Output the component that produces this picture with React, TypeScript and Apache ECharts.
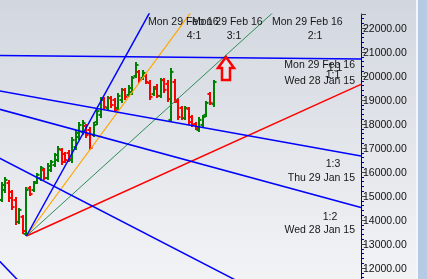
import React, { useEffect, useRef } from 'react';
import * as echarts from 'echarts';

// ---- OHLC data (bar index, open, high, low, close) ----
const opens = [14830, 15250, 15540, 15170, 14830, 13920, 14130, 13420, 15330, 15250, 15580, 15750, 16080, 15750, 16080, 16290, 16500, 16920, 16750, 16790, 16500, 17040, 17460, 17670, 17920, 17750, 17540, 18080, 18380, 19040, 18670, 19080, 19000, 18670, 19000, 19420, 19210, 19330, 20000, 20170, 19920, 20000, 19710, 19250, 19540, 19170, 19830, 19670, 18170, 19750, 18920, 18670, 18250, 18630, 18290, 18000, 17750, 17960, 18380, 19250, 18830];
const highs = [15580, 15790, 15670, 15250, 14960, 14500, 14210, 15380, 15420, 15630, 15960, 16250, 16170, 16380, 16500, 16790, 17080, 17000, 16830, 16920, 17460, 17750, 18080, 18170, 18000, 17880, 18080, 18670, 19130, 19130, 19170, 19170, 19080, 19290, 19500, 19500, 19630, 20000, 20580, 20250, 20250, 20080, 19830, 19580, 19670, 19920, 19920, 19830, 20330, 19880, 19080, 18750, 18750, 18710, 18380, 18080, 18290, 18380, 18960, 19330, 19830];
const lows = [14750, 15130, 14750, 14420, 13790, 13830, 13420, 13330, 15000, 15170, 15500, 15630, 15670, 15670, 16000, 16210, 16420, 16290, 16380, 16420, 16380, 16920, 17330, 17540, 17420, 16920, 17460, 17960, 18250, 18580, 18580, 18670, 18500, 18580, 18880, 19000, 19130, 19210, 19920, 19710, 19830, 19670, 19000, 19170, 19080, 19080, 19290, 18920, 18080, 18880, 18170, 18170, 18170, 17960, 17880, 17750, 17670, 17880, 18290, 18790, 18710];
const closes = [15460, 15670, 14920, 14540, 13920, 14420, 13540, 15250, 15080, 15540, 15880, 16170, 15750, 16250, 16420, 16710, 16960, 16420, 16500, 16540, 17330, 17630, 17960, 18040, 17540, 17000, 17960, 18540, 19000, 18710, 19080, 18790, 18580, 19170, 19420, 19130, 19500, 19920, 20460, 19830, 20130, 19750, 19130, 19460, 19170, 19830, 19420, 19040, 20170, 19000, 18290, 18250, 18670, 18080, 17960, 17830, 18170, 18290, 18880, 18880, 19750];

// ---- axes ----
const yMin = 11000;
const yMax = 22583.33;
const yInterval = 1000;
const yLabelMin = 12000;
const yLabelMax = 22000;
const xMin = -0.5;
const xMax = 101.77;

// ---- lower Gann fan (from the swing low) ----
const lowFanOrigin = [7, 13333];
const lowFanUnit = 66.67; // value per bar for 1:1
const lowFanRatios = [1, 2, 3, 4];
const lowFanColors = ['#ff0000', '#2e8b57', '#ffa500', '#0000ff'];
const lowFanWidths = [1.5, 1, 1.2, 1.5];

// ---- upper Gann fan (from an earlier high, off the left edge) ----
const highFanOrigin = [-57.16, 20875];
const highFanSlopes = [-152, -76, -40, -26.5];

// ---- near-horizontal level line ----
const levelLineValues = [20854, 20708];

const labelFont = 'Liberation Sans, Arial, sans-serif';

export default function App() {
  const ref = useRef<HTMLDivElement>(null);
  useEffect(() => {
    if (!ref.current) return;
    const chart = echarts.init(ref.current, undefined, { renderer: 'svg' });

    const ohlc = opens.map((o, i) => [i, o, highs[i], lows[i], closes[i]]);

    const lineSeries: any[] = [];
    lowFanRatios.forEach((r, k) => {
      const [x0, y0] = lowFanOrigin;
      lineSeries.push({
        type: 'line',
        data: [[x0, y0], [xMax, y0 + r * lowFanUnit * (xMax - x0)]],
        symbol: 'none',
        clip: true,
        z: 4,
        silent: true,
        lineStyle: { color: lowFanColors[k], width: lowFanWidths[k] },
      });
    });
    highFanSlopes.forEach((s) => {
      const [x0, y0] = highFanOrigin;
      lineSeries.push({
        type: 'line',
        data: [[x0, y0], [xMax, y0 + s * (xMax - x0)]],
        symbol: 'none',
        clip: true,
        z: 4,
        silent: true,
        lineStyle: { color: '#0000ff', width: 1.5 },
      });
    });
    lineSeries.push({
      type: 'line',
      data: [[xMin, levelLineValues[0]], [xMax, levelLineValues[1]]],
      symbol: 'none',
      clip: true,
      z: 4,
      silent: true,
      lineStyle: { color: '#0000ff', width: 1.5 },
    });

    const txt = (text: string, x: number, y: number, align: string = 'left') => ({
      type: 'text',
      x,
      y,
      z: 20,
      silent: true,
      style: {
        text,
        fill: '#161616',
        font: `10.5px ${labelFont}`,
        align,
        verticalAlign: 'middle',
      },
    });

    const option: any = {
      animation: false,
      backgroundColor: 'transparent',
      grid: { left: 0, right: 66, top: 14, bottom: -13, outerBoundsMode: 'none', containLabel: false },
      xAxis: {
        type: 'value',
        min: xMin,
        max: xMax,
        show: false,
        axisLine: { onZero: false },
        splitLine: { show: false },
      },
      yAxis: {
        type: 'value',
        position: 'right',
        min: yMin,
        max: yMax,
        interval: yInterval,
        axisLine: { show: true, onZero: false, lineStyle: { color: '#00008b', width: 1 } },
        axisTick: { show: true, length: 5, lineStyle: { color: '#404040' } },
        minorTick: { show: true, splitNumber: 5, length: 3, lineStyle: { color: '#00008b' } },
        splitLine: { show: false },
        axisLabel: {
          show: true,
          margin: 2,
          color: '#111',
          fontSize: 10.5,
          fontFamily: labelFont,
          showMaxLabel: false,
          formatter: (v: number) => (v < yLabelMin || v > yLabelMax ? '' : v.toFixed(2)),
        },
      },
      graphic: [
        {
          type: 'rect',
          z: -10,
          silent: true,
          shape: { x: 0, y: 0, width: 427, height: 279 },
          style: {
            fill: new echarts.graphic.LinearGradient(0, 0, 0, 1, [
              { offset: 0, color: '#d2d7df' },
              { offset: 1, color: '#f2f3f5' },
            ]),
          },
        },
        { type: 'rect', z: 30, silent: true, shape: { x: 416, y: 0, width: 2, height: 279 }, style: { fill: '#f4f6f9' } },
        { type: 'rect', z: 30, silent: true, shape: { x: 418, y: 0, width: 9, height: 279 }, style: { fill: '#b6cbe3' } },
        // lower fan labels
        txt('Mon 29 Feb 16', 148, 21),
        txt('4:1', 194, 35, 'center'),
        txt('Mon 29 Feb 16', 192, 21),
        txt('3:1', 234, 35, 'center'),
        txt('Mon 29 Feb 16', 272, 21),
        txt('2:1', 315, 35, 'center'),
        txt('Mon 29 Feb 16', 355, 64, 'right'),
        txt('1:1', 333, 74, 'center'),
        // upper fan labels
        txt('1:1', 335, 67, 'center'),
        txt('Wed 28 Jan 15', 355, 80, 'right'),
        txt('1:3', 333, 163, 'center'),
        txt('Thu 29 Jan 15', 355, 177, 'right'),
        txt('1:2', 330, 216, 'center'),
        txt('Wed 28 Jan 15', 355, 229, 'right'),
        // red arrow annotation
        {
          type: 'polygon',
          z: 25,
          silent: true,
          shape: {
            points: [[226, 57], [234, 68], [230, 68], [230, 80], [222, 80], [222, 68], [218, 68]],
          },
          style: { fill: 'rgba(255,255,255,0.25)', stroke: '#ff0000', lineWidth: 2.5, lineJoin: 'miter' },
        },
      ],
      series: [
        {
          type: 'custom',
          z: 2,
          silent: true,
          data: ohlc,
          encode: { x: 0, y: [1, 2, 3, 4] },
          renderItem: (_params: any, api: any) => {
            const i = api.value(0);
            const o = api.value(1);
            const h = api.value(2);
            const l = api.value(3);
            const c = api.value(4);
            const pO = api.coord([i, o]);
            const pH = api.coord([i, h]);
            const pL = api.coord([i, l]);
            const pC = api.coord([i, c]);
            const x = Math.round(pO[0]);
            const color = c >= o ? '#008000' : '#ff0000';
            const w = 2.5;
            const st = { stroke: color, lineWidth: 2 };
            return {
              type: 'group',
              children: [
                { type: 'line', shape: { x1: x, y1: pH[1], x2: x, y2: pL[1] }, style: st },
                { type: 'line', shape: { x1: x - w, y1: pO[1], x2: x, y2: pO[1] }, style: st },
                { type: 'line', shape: { x1: x, y1: pC[1], x2: x + w, y2: pC[1] }, style: st },
              ],
            };
          },
        },
        ...lineSeries,
      ],
    };

    chart.setOption(option);
    return () => chart.dispose();
  }, []);

  return (
    <div
      ref={ref}
      style={{ position: 'fixed', left: 0, top: 0, width: 427, height: 279 }}
    />
  );
}
